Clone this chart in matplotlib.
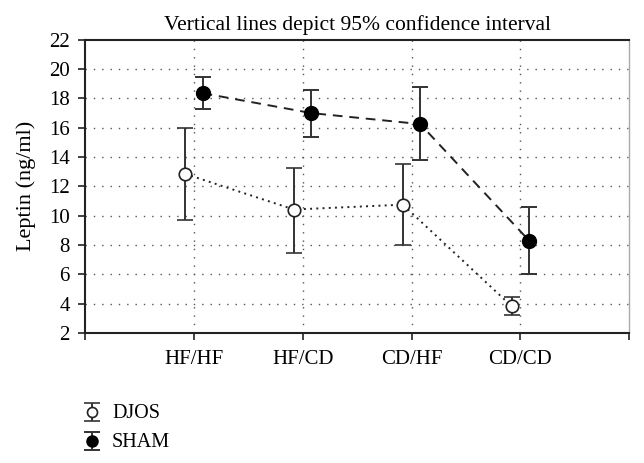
import matplotlib
matplotlib.use("Agg")
import matplotlib.pyplot as plt
from matplotlib.container import ErrorbarContainer
from matplotlib.legend_handler import HandlerErrorbar
import numpy as np

categories = ["HF/HF", "HF/CD", "CD/HF", "CD/CD"]
djos_mean = [12.85, 10.42, 10.75, 3.82]
djos_low = [9.68, 7.48, 8.0, 3.25]
djos_high = [16.0, 13.23, 13.52, 4.47]
sham_mean = [18.36, 17.0, 16.25, 8.3]
sham_low = [17.25, 15.4, 13.77, 6.0]
sham_high = [19.47, 18.58, 18.76, 10.57]

plt.rcParams['font.family'] = ['Liberation Serif', 'DejaVu Serif']

fig = plt.figure(figsize=(6.44, 4.63), dpi=100)
ax = fig.add_axes([0.132, 0.281, 0.845, 0.633])

x = np.arange(1, len(categories) + 1)
off = 0.08
xd = x - off
xs = x + off

def yerr(mean, low, high):
    m = np.array(mean)
    return [m - np.array(low), np.array(high) - m]

ax.plot(xd, djos_mean, linestyle=(0, (1, 2.2)), color='#222222', lw=1.4, zorder=2)
ax.plot(xs, sham_mean, linestyle=(0, (5, 3.5)), color='#222222', lw=1.4, zorder=2)

e1 = ax.errorbar(xd, djos_mean, yerr=yerr(djos_mean, djos_low, djos_high), fmt='o',
                 mfc='white', mec='#222222', mew=1.2, ms=9, ecolor='#333333',
                 elinewidth=1.4, capsize=6, capthick=1.4, linestyle='none',
                 label='DJOS', zorder=3)
e2 = ax.errorbar(xs, sham_mean, yerr=yerr(sham_mean, sham_low, sham_high), fmt='o',
                 mfc='black', mec='black', ms=10, ecolor='#333333',
                 elinewidth=1.4, capsize=6, capthick=1.4, linestyle='none',
                 label='SHAM', zorder=3)

ax.set_xlim(0, 5)
ax.set_ylim(2, 22)
ax.set_yticks(np.arange(2, 23, 2))
ax.set_xticks(np.arange(0, 6))
ax.set_xticklabels([""] + categories + [""])
ax.tick_params(axis='both', direction='out', length=5, width=1.2, labelsize=15, color='#222222')
ax.tick_params(axis='x', pad=7)
ax.tick_params(axis='y', pad=6)

for yv in range(4, 21, 2):
    ax.axhline(yv, color='#555555', lw=1.0, linestyle=(0, (1, 5)), zorder=1)
for xv in x:
    ax.axvline(xv, color='#555555', lw=1.0, linestyle=(0, (1, 5)), zorder=1)

for s in ['left', 'bottom', 'top']:
    ax.spines[s].set_color('#222222')
    ax.spines[s].set_linewidth(1.5)
ax.spines['right'].set_color('#aaaaaa')
ax.spines['right'].set_linewidth(1.0)

ax.set_ylabel("Leptin (ng/ml)", fontsize=16, labelpad=9)
ax.set_title("Vertical lines depict 95% confidence interval", fontsize=15.5, pad=7)

fig.legend(handles=[e1, e2], labels=['DJOS', 'SHAM'], loc='upper left',
           bbox_to_anchor=(0.116, 0.144), frameon=False, fontsize=14.5,
           handlelength=0.9, handleheight=0.6, handletextpad=0.55, labelspacing=0.5,
           borderaxespad=0, markerscale=0.8,
           handler_map={ErrorbarContainer: HandlerErrorbar(yerr_size=0.45)})

fig.savefig("out.png", dpi=100)
